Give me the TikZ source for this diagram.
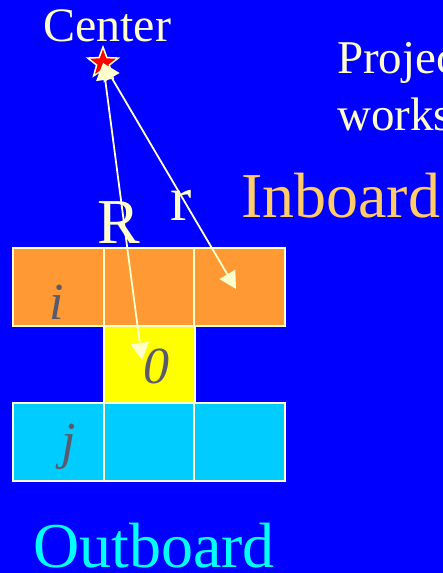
\documentclass[tikz,border=0pt]{standalone}
\usepackage{fontspec}
\setmainfont{Liberation Serif}
\usetikzlibrary{shapes.geometric,arrows.meta}
\definecolor{bg}{RGB}{0,0,255}
\definecolor{cream}{RGB}{255,255,204}
\definecolor{inorange}{RGB}{255,153,51}
\definecolor{midyellow}{RGB}{255,255,0}
\definecolor{outcyan}{RGB}{0,204,255}
\definecolor{inlabel}{RGB}{255,204,102}
\definecolor{outlabel}{RGB}{0,255,255}
\definecolor{cellink}{RGB}{90,90,110}

\begin{document}
\begin{tikzpicture}[x=1pt,y=-1pt,
  cell/.style={draw=cream, line width=2pt, minimum width=91pt, minimum height=77.5pt, inner sep=0pt, outer sep=0pt},
  txt/.style={inner sep=0pt, anchor=base west, text=cream},
  idx/.style={inner sep=0pt, anchor=base west, text=cellink, font=\fontsize{52}{52}\selectfont\itshape},
  ray/.style={cream, line width=1.8pt, {Triangle[length=17pt,width=18pt]}-{Triangle[length=17pt,width=18pt]}}]

% canvas
\useasboundingbox (0,0) rectangle (443,573);
\clip (0,0) rectangle (443,573);
\fill[bg] (0,0) rectangle (443,573);

% inboard row
\node[cell, fill=inorange] (i1) at (58.5,287) {};
\node[cell, fill=inorange] (i2) at (149,287) {};
\node[cell, fill=inorange] (i3) at (239.5,287) {};
% the cell itself
\node[cell, fill=midyellow] (c0) at (149,364.5) {};
% outboard row
\node[cell, fill=outcyan] (o1) at (58.5,442) {};
\node[cell, fill=outcyan] (o2) at (149,442) {};
\node[cell, fill=outcyan] (o3) at (239.5,442) {};

% cell indices
\node[idx] (li) at (49,319) {i};
\node[idx] (l0) at (143,383) {0};
\node[idx] (lj) at (61,458) {j};

% centre of curvature
\node[star, star points=5, star point ratio=2.4, fill=red, draw=cream, line width=1.5pt,
      minimum size=32pt, inner sep=0pt] (ctr) at (103,63) {};
\coordinate (Rtip) at (142,360);
\coordinate (rtip) at (236,289);
\draw[ray] (ctr.center) -- (Rtip);
\draw[ray] (ctr.center) -- (rtip);

% labels
\node[txt, font=\fontsize{48}{48}\selectfont] (lc) at (43,41) {Center};
\node[txt, font=\fontsize{47}{47}\selectfont] (lp1) at (337,73) {Project};
\node[txt, font=\fontsize{47}{47}\selectfont] (lp2) at (337,130) {works};
\node[txt, font=\fontsize{64}{64}\selectfont] (lR) at (97,243) {R};
\node[txt, font=\fontsize{64}{64}\selectfont] (lr) at (170,220) {r};
\node[txt, text=inlabel, font=\fontsize{64}{64}\selectfont] (lin) at (241,217) {Inboard};
\node[txt, text=outlabel, font=\fontsize{64}{64}\selectfont] (lout) at (33,567) {Outboard};
\end{tikzpicture}
\end{document}
